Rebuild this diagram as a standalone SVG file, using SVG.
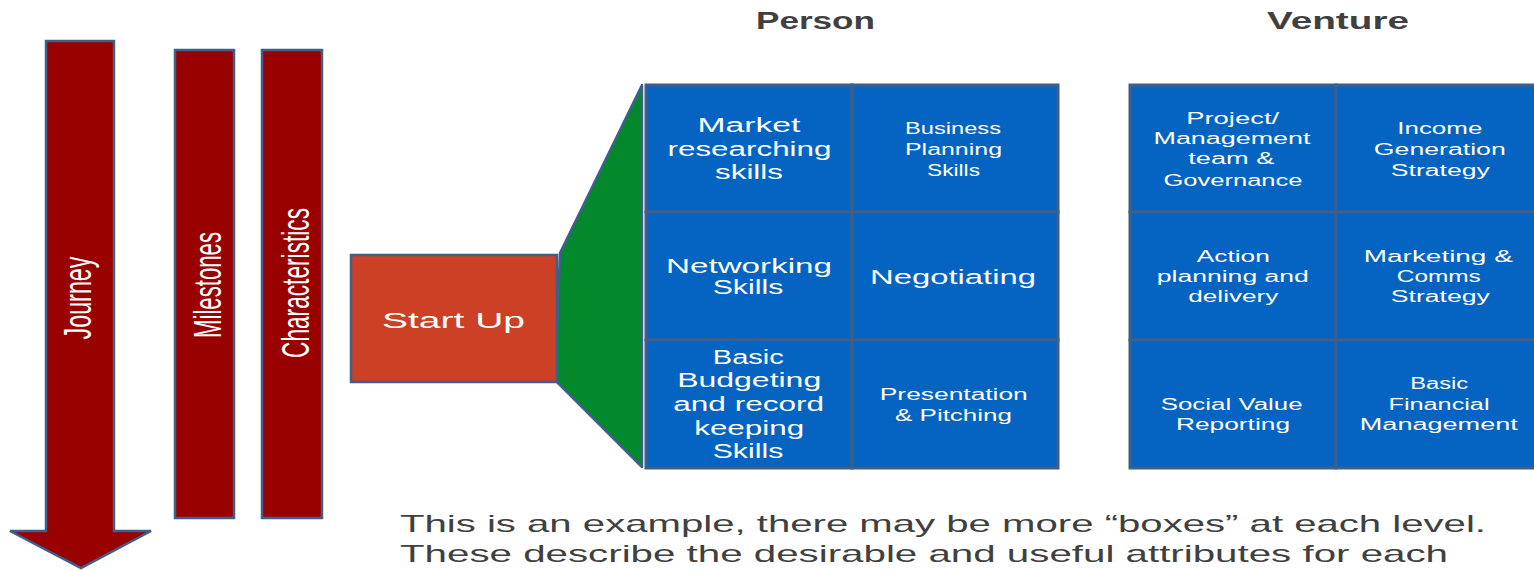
<svg xmlns="http://www.w3.org/2000/svg" width="1534" height="570" viewBox="0 0 1534 570">
  <style>
    .bar { fill: #990000; stroke: #3e5f8a; stroke-width: 2.5; }
    .cell { fill: #0563c1; stroke: #3e5f8a; stroke-width: 3; }
    .t { font-family: "Liberation Sans", Arial, sans-serif; fill: #ffffff; text-anchor: middle; }
    .s { font-size: 16px; }
    .l { font-size: 19.5px; }
    .v { font-family: "Liberation Sans", Arial, sans-serif; fill: #ffffff; text-anchor: middle; font-size: 38px; }
    .head { font-family: "Liberation Sans", Arial, sans-serif; font-weight: bold; font-size: 23px; fill: #404040; text-anchor: middle; }
    .note { font-family: "Liberation Sans", Arial, sans-serif; font-size: 24px; fill: #404040; }
  </style>

  <!-- Journey arrow -->
  <g id="journey">
    <polygon class="bar" points="46,41 114,41 114,531 151,531 81,568 10,531 46,531"/>
    <text class="v" transform="translate(91,298) rotate(-90)" textLength="83" lengthAdjust="spacingAndGlyphs" x="0" y="0">Journey</text>
  </g>

  <!-- Milestones bar -->
  <g id="milestones">
    <rect class="bar" x="175" y="50" width="59" height="468"/>
    <text class="v" transform="translate(221,285) rotate(-90)" textLength="106" lengthAdjust="spacingAndGlyphs" x="0" y="0">Milestones</text>
  </g>

  <!-- Characteristics bar -->
  <g id="characteristics">
    <rect class="bar" x="262" y="50" width="60" height="468"/>
    <text class="v" transform="translate(309,283) rotate(-90)" textLength="150" lengthAdjust="spacingAndGlyphs" x="0" y="0">Characteristics</text>
  </g>

  <!-- Funnel linking Start Up to the person skills -->
  <g id="connectors">
    <polygon points="560,253 642,85 642,467 555,380" fill="#03882c" stroke="#3e5f8a" stroke-width="2.5" stroke-linejoin="round"/>
  </g>

  <!-- Start Up stage -->
  <g id="startup">
    <rect x="351" y="255" width="206" height="127" fill="#cc4125" stroke="#3e5f8a" stroke-width="2.5"/>
    <text class="t" x="453.5" y="328" font-size="22" textLength="143" lengthAdjust="spacingAndGlyphs">Start Up</text>
  </g>

  <!-- Column headings -->
  <g id="headings">
    <text class="head" x="815.5" y="29" textLength="119" lengthAdjust="spacingAndGlyphs">Person</text>
    <text class="head" x="1338" y="29" textLength="142" lengthAdjust="spacingAndGlyphs">Venture</text>
  </g>

  <!-- Person grid -->
  <g id="person-market">
    <rect class="cell" x="646" y="85" width="206" height="127"/>
    <text class="t l" x="749" y="132.3" textLength="103" lengthAdjust="spacingAndGlyphs">Market</text>
    <text class="t l" x="749.5" y="156" textLength="164" lengthAdjust="spacingAndGlyphs">researching</text>
    <text class="t l" x="749" y="179" textLength="68" lengthAdjust="spacingAndGlyphs">skills</text>
  </g>
  <g id="person-business">
    <rect class="cell" x="852" y="85" width="206" height="127"/>
    <text class="t s" x="953" y="134.3" textLength="96" lengthAdjust="spacingAndGlyphs">Business</text>
    <text class="t s" x="953.5" y="155" textLength="97" lengthAdjust="spacingAndGlyphs">Planning</text>
    <text class="t s" x="953.5" y="175.7" textLength="53" lengthAdjust="spacingAndGlyphs">Skills</text>
  </g>
  <g id="person-networking">
    <rect class="cell" x="646" y="212" width="206" height="128"/>
    <text class="t l" x="749" y="273.3" textLength="166" lengthAdjust="spacingAndGlyphs">Networking</text>
    <text class="t l" x="748" y="294" textLength="70.6" lengthAdjust="spacingAndGlyphs">Skills</text>
  </g>
  <g id="person-negotiating">
    <rect class="cell" x="852" y="212" width="206" height="128"/>
    <text class="t" x="953" y="284" font-size="20.5" textLength="166" lengthAdjust="spacingAndGlyphs">Negotiating</text>
  </g>
  <g id="person-budgeting">
    <rect class="cell" x="646" y="340" width="206" height="128"/>
    <text class="t l" x="748.3" y="364" textLength="71" lengthAdjust="spacingAndGlyphs">Basic</text>
    <text class="t l" x="749.2" y="387.3" textLength="144" lengthAdjust="spacingAndGlyphs">Budgeting</text>
    <text class="t l" x="748.7" y="410.7" textLength="151" lengthAdjust="spacingAndGlyphs">and record</text>
    <text class="t l" x="749.2" y="435" textLength="110" lengthAdjust="spacingAndGlyphs">keeping</text>
    <text class="t l" x="748" y="458.3" textLength="70.6" lengthAdjust="spacingAndGlyphs">Skills</text>
  </g>
  <g id="person-pitching">
    <rect class="cell" x="852" y="340" width="206" height="128"/>
    <text class="t s" x="953.8" y="400" textLength="148" lengthAdjust="spacingAndGlyphs">Presentation</text>
    <text class="t s" x="953.5" y="420.7" textLength="117" lengthAdjust="spacingAndGlyphs">&amp; Pitching</text>
  </g>

  <!-- Venture grid -->
  <g id="venture-governance">
    <rect class="cell" x="1130" y="85" width="206" height="127"/>
    <text class="t s" x="1232.7" y="124" textLength="93" lengthAdjust="spacingAndGlyphs">Project/</text>
    <text class="t s" x="1232" y="144" textLength="157" lengthAdjust="spacingAndGlyphs">Management</text>
    <text class="t s" x="1231.3" y="164" textLength="86" lengthAdjust="spacingAndGlyphs">team &amp;</text>
    <text class="t s" x="1233" y="185.7" textLength="139" lengthAdjust="spacingAndGlyphs">Governance</text>
  </g>
  <g id="venture-income">
    <rect class="cell" x="1336" y="85" width="206" height="127"/>
    <text class="t s" x="1439.8" y="134.3" textLength="85" lengthAdjust="spacingAndGlyphs">Income</text>
    <text class="t s" x="1439.8" y="155" textLength="132" lengthAdjust="spacingAndGlyphs">Generation</text>
    <text class="t s" x="1440.3" y="175.7" textLength="99" lengthAdjust="spacingAndGlyphs">Strategy</text>
  </g>
  <g id="venture-action">
    <rect class="cell" x="1130" y="212" width="206" height="128"/>
    <text class="t s" x="1233.3" y="261.7" textLength="73" lengthAdjust="spacingAndGlyphs">Action</text>
    <text class="t s" x="1232.8" y="281.7" textLength="152" lengthAdjust="spacingAndGlyphs">planning  and</text>
    <text class="t s" x="1233.3" y="301.7" textLength="90" lengthAdjust="spacingAndGlyphs">delivery</text>
  </g>
  <g id="venture-marketing">
    <rect class="cell" x="1336" y="212" width="206" height="128"/>
    <text class="t s" x="1438.3" y="261.7" textLength="149" lengthAdjust="spacingAndGlyphs">Marketing &amp;</text>
    <text class="t s" x="1438.8" y="281.7" textLength="84" lengthAdjust="spacingAndGlyphs">Comms</text>
    <text class="t s" x="1440.3" y="301.7" textLength="99" lengthAdjust="spacingAndGlyphs">Strategy</text>
  </g>
  <g id="venture-social">
    <rect class="cell" x="1130" y="340" width="206" height="128"/>
    <text class="t s" x="1231.7" y="410" textLength="142" lengthAdjust="spacingAndGlyphs">Social  Value</text>
    <text class="t s" x="1233" y="430" textLength="114" lengthAdjust="spacingAndGlyphs">Reporting</text>
  </g>
  <g id="venture-finance">
    <rect class="cell" x="1336" y="340" width="206" height="128"/>
    <text class="t s" x="1439.2" y="389.3" textLength="58" lengthAdjust="spacingAndGlyphs">Basic</text>
    <text class="t s" x="1439" y="410" textLength="101" lengthAdjust="spacingAndGlyphs">Financial</text>
    <text class="t s" x="1438.8" y="430" textLength="158" lengthAdjust="spacingAndGlyphs">Management</text>
  </g>

  <!-- Explanatory note -->
  <g id="note">
    <text class="note" x="400" y="532" textLength="1086" lengthAdjust="spacingAndGlyphs">This is an example, there may be more “boxes” at each level.</text>
    <text class="note" x="400" y="562" textLength="1048" lengthAdjust="spacingAndGlyphs">These describe the desirable and useful attributes for each</text>
  </g>
</svg>
